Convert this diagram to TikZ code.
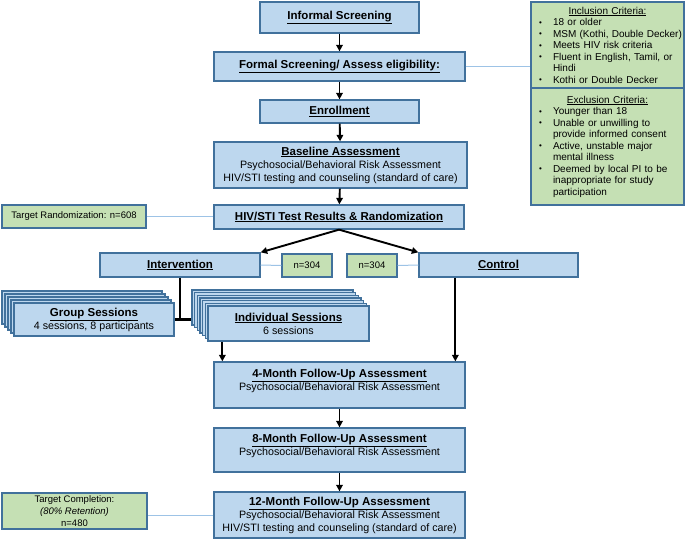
\documentclass[tikz,border=0pt]{standalone}
\usepackage{fontspec}
\setmainfont{Liberation Sans}
\usepackage{xcolor}
\usepackage{tikz}
\usetikzlibrary{shapes, arrows.meta, positioning}

\definecolor{boxblue}{RGB}{189,215,238}
\definecolor{boxedge}{RGB}{65,113,156}
\definecolor{boxgreen}{RGB}{197,224,180}
\definecolor{linkblue}{RGB}{157,195,230}

\newcommand{\boxtitle}[1]{{\fontsize{11.5}{13}\selectfont\bfseries\underline{#1}}}
\newcommand{\critem}[1]{\hspace*{6pt}\makebox[14pt][l]{\raisebox{0.5pt}{\fontsize{8}{8}\selectfont\textbullet}}#1}
\newcommand{\crmore}[1]{\hspace*{20pt}#1}

\begin{document}
\begin{tikzpicture}[x=1pt, y=-1pt,
    stage/.style={draw=boxedge, line width=1.3pt, fill=boxblue, inner sep=0pt, align=center, font=\fontsize{10.7}{13}\selectfont},
    note/.style={draw=boxedge, line width=1.3pt, fill=boxgreen, inner sep=0pt, align=center, font=\fontsize{9.5}{12}\selectfont},
    criteria/.style={draw=boxedge, line width=1.3pt, fill=boxgreen, inner sep=2pt, text width=149pt, align=left, font=\fontsize{10}{11.5}\selectfont},
    flow/.style={-{Triangle[length=6.5pt, width=6.5pt]}, line width=1.9pt},
    link/.style={draw=linkblue, line width=1pt}]
        \useasboundingbox (0,0) rectangle (685,540);

        % Screening and enrollment
        \node[stage, minimum width=159pt, minimum height=31pt] (inf) at (339.5,17.5) {\boxtitle{Informal Screening}};
        \node[stage, minimum width=251pt, minimum height=29pt] (formal) at (339.5,66.5) {\boxtitle{Formal Screening/ Assess eligibility:}};
        \node[stage, minimum width=159pt, minimum height=23pt] (enroll) at (339.5,111.5) {\boxtitle{Enrollment}};
        \node[stage, minimum width=253pt, minimum height=46pt] (base) at (340.5,165) {\boxtitle{Baseline Assessment}\\Psychosocial/Behavioral Risk Assessment\\HIV/STI testing and counseling (standard of care)};
        \node[stage, minimum width=250pt, minimum height=24pt] (hiv) at (339,217) {\boxtitle{HIV/STI Test Results \& Randomization}};

        % Eligibility criteria
        \node[criteria, minimum height=86pt] (incl) at (607.5,45) {\makebox[149pt]{\underline{Inclusion Criteria:}}\\
            \critem{18 or older}\\
            \critem{MSM (Kothi, Double Decker)}\\
            \critem{Meets HIV risk criteria}\\
            \critem{Fluent in English, Tamil, or}\\
            \crmore{Hindi}\\
            \critem{Kothi or Double Decker}};
        \node[criteria, minimum height=117pt] (excl) at (607.5,146.5) {\makebox[149pt]{\underline{Exclusion Criteria:}}\\
            \critem{Younger than 18}\\
            \critem{Unable or unwilling to}\\
            \crmore{provide informed consent}\\
            \critem{Active, unstable major}\\
            \crmore{mental illness}\\
            \critem{Deemed by local PI to be}\\
            \crmore{inappropriate for study}\\
            \crmore{participation}};

        % Targets
        \node[note, minimum width=144pt, minimum height=23pt] (targrand) at (74,216.5) {Target Randomization: n=608};
        \node[note, minimum width=145pt, minimum height=36pt] (tcomp) at (74.5,511) {Target Completion:\\\textit{(80\% Retention)}\\n=480};

        % Arms
        \node[stage, minimum width=160pt, minimum height=24pt] (interv) at (180,265) {\boxtitle{Intervention}};
        \node[note, minimum width=50pt, minimum height=23pt] (n1) at (307,265.5) {n=304};
        \node[note, minimum width=50pt, minimum height=23pt] (n2) at (372,265.5) {n=304};
        \node[stage, minimum width=159pt, minimum height=24pt] (ctrl) at (498.5,265) {\boxtitle{Control}};

        % Sessions
        \foreach \k in {4,...,1}
            \node[stage, minimum width=160pt, minimum height=33pt] (grp\k) at (94-3*\k,319.5-3*\k) {};
        \node[stage, minimum width=160pt, minimum height=33pt] (grp) at (94,319.5) {\boxtitle{Group Sessions}\\4 sessions, 8 participants};
        \foreach \k in {6,...,1}
            \node[stage, minimum width=161pt, minimum height=35pt] (ind\k) at (288.5-2.67*\k,323.5-2.67*\k) {};
        \node[stage, minimum width=161pt, minimum height=35pt] (ind) at (288.5,323.5) {\boxtitle{Individual Sessions}\\6 sessions};

        % Follow-up
        \node[stage, minimum width=251pt, minimum height=46pt] (m4) at (339.5,385) {};
        \node[align=center, inner sep=0pt, font=\fontsize{10.7}{13}\selectfont] (m4txt) at (339.5,381) {\boxtitle{4-Month Follow-Up Assessment}\\Psychosocial/Behavioral Risk Assessment};
        \node[stage, minimum width=251pt, minimum height=44pt] (m8) at (339.5,450) {};
        \node[align=center, inner sep=0pt, font=\fontsize{10.7}{13}\selectfont] (m8txt) at (339.5,446) {\boxtitle{8-Month Follow-Up Assessment}\\Psychosocial/Behavioral Risk Assessment};
        \node[stage, minimum width=251pt, minimum height=46pt] (m12) at (339.5,515) {\boxtitle{12-Month Follow-Up Assessment}\\Psychosocial/Behavioral Risk Assessment\\HIV/STI testing and counseling (standard of care)};

        % Arrows
        \foreach \a/\b in {inf/formal, formal/enroll, enroll/base, base/hiv, m4/m8, m8/m12}
            \draw[flow] (\a) -- (\b);
        \draw[flow] (hiv.south) -- (interv.north east);
        \draw[flow] (hiv.south) -- (ctrl.north west);
        \draw[line width=2.2pt] (interv.south) -- (interv.south |- grp.east);
        \draw[line width=2.2pt] (grp.east) -- (grp.east -| ind6.west);
        \draw[flow] ([xshift=15pt]ind.south west) -- ([xshift=15pt]ind.south west |- m4.north);
        \draw[flow] ([xshift=37pt]ctrl.south west) -- ([xshift=37pt]ctrl.south west |- m4.north);

        % Links to notes
        \draw[link] (formal.east) -- (formal.east -| incl.west);
        \draw[link] (targrand.east) -- (targrand.east -| hiv.west);
        \draw[link] (interv.east) -- (n1.west);
        \draw[link] (n2.east) -- (ctrl.west);
        \draw[link] (m12.west) -- (m12.west -| tcomp.east);
    \end{tikzpicture}
\end{document}
